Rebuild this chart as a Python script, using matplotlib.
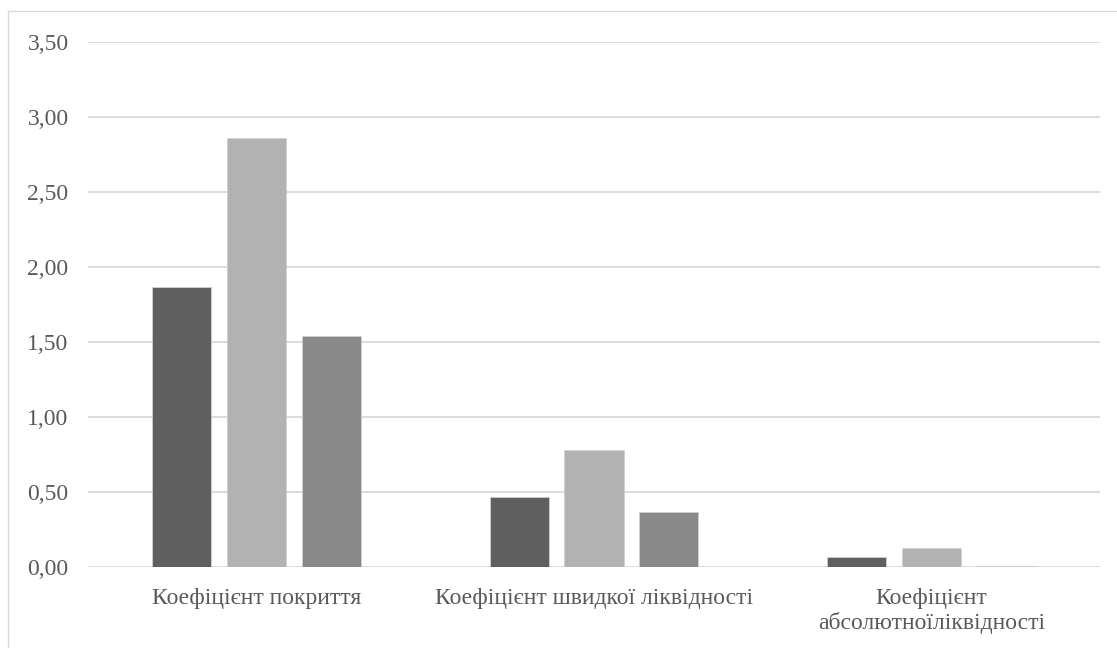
import matplotlib.pyplot as plt
from matplotlib.patches import Rectangle
from matplotlib.ticker import FuncFormatter
import numpy as np

categories = ["Коефіцієнт покриття",
              "Коефіцієнт швидкої ліквідності",
              "Коефіцієнт\nабсолютноїліквідності"]
series_1 = [1.87, 0.47, 0.07]
series_2 = [2.86, 0.78, 0.13]
series_3 = [1.54, 0.37, 0.01]
colors = ["#5f5f5f", "#b2b2b2", "#898989"]

plt.rcParams["font.family"] = ["Liberation Serif", "DejaVu Serif"]

fig = plt.figure(figsize=(11.17, 6.48), dpi=100)
ax = fig.add_axes([88 / 1117, 1 - 567 / 648, 1012 / 1117, 525 / 648])

# light frame around the whole chart
fig.patches.append(Rectangle((8 / 1117, -0.1), 1.2, 1 - 11 / 648 + 0.1,
                             transform=fig.transFigure, fill=False,
                             edgecolor="#d9d9d9", linewidth=1.0))

x = np.arange(len(categories)) + 0.5
width = 0.175
step = 0.222
for i, (vals, c) in enumerate(zip([series_1, series_2, series_3], colors)):
    ax.bar(x + (i - 1) * step, vals, width, color=c, edgecolor="#d0d0d0",
           linewidth=0.6, zorder=3)

ax.set_xlim(0, 3)
ax.set_ylim(0, 3.5)
ax.set_yticks(np.arange(0, 3.51, 0.5))
ax.yaxis.set_major_formatter(FuncFormatter(lambda v, _: f"{v:.2f}".replace(".", ",")))
ax.set_xticks(x)
ax.set_xticklabels(categories, linespacing=1.2)
ax.grid(axis="y", color="#d9d9d9", linewidth=1.3, zorder=0)
for s in ax.spines.values():
    s.set_visible(False)
ax.tick_params(axis="both", length=0, colors="#595959", labelsize=17)
ax.tick_params(axis="y", pad=14)
ax.tick_params(axis="x", pad=15)

fig.savefig("out.png", dpi=100)
